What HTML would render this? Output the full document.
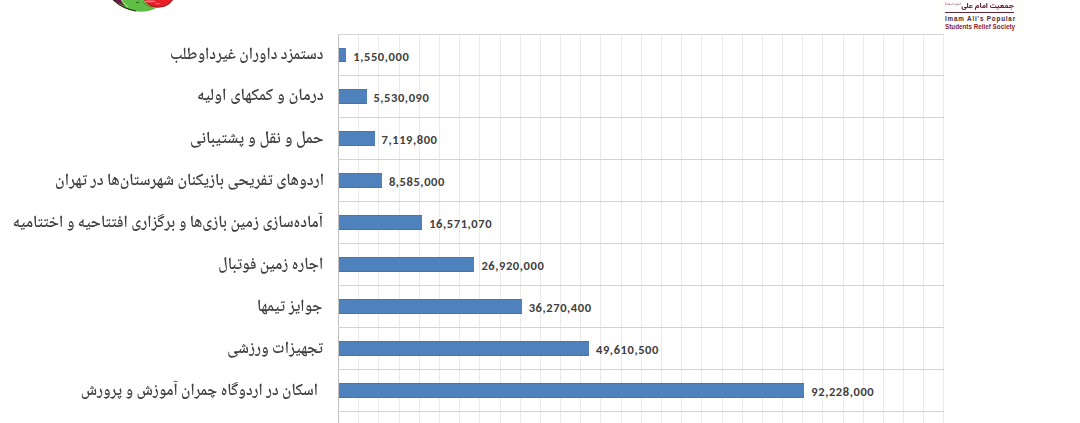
<!DOCTYPE html>
<html><head><meta charset="utf-8"><style>
html,body{margin:0;padding:0;background:#fff;width:1080px;height:423px;overflow:hidden;position:relative}
svg{position:absolute;left:0;top:0}
.v{position:absolute;font-family:Carlito,"Liberation Sans",sans-serif;font-weight:bold;font-size:12.5px;line-height:14px;color:#404040;white-space:nowrap;letter-spacing:0.58px}
.c{position:absolute;font-family:"Noto Naskh Arabic","DejaVu Sans",sans-serif;font-size:17px;font-weight:600;line-height:30px;color:#404040;direction:rtl;white-space:nowrap;transform-origin:100% 50%}
.la{font-family:"Vazirmatn","Noto Naskh Arabic","DejaVu Sans",sans-serif;font-weight:800;color:#5a1a2a;direction:rtl;white-space:nowrap}
.lsm{font-family:"Noto Naskh Arabic","DejaVu Sans",sans-serif;font-size:8px;line-height:8px;color:#6a3a44;white-space:nowrap;transform:scale(0.42);transform-origin:0 0;direction:rtl}
.le{position:absolute;left:945px;font-family:"Liberation Sans",Arial,sans-serif;font-weight:bold;font-size:6.6px;line-height:8px;white-space:nowrap}
</style></head><body>
<svg width="1080" height="423" viewBox="0 0 1080 423" shape-rendering="crispEdges">
<rect x="338" y="34" width="1" height="389" fill="#bfbfbf"/><rect x="358" y="34" width="1" height="389" fill="#eaeaea"/><rect x="378" y="34" width="1" height="389" fill="#eaeaea"/><rect x="399" y="34" width="1" height="389" fill="#eaeaea"/><rect x="419" y="34" width="1" height="389" fill="#eaeaea"/><rect x="439" y="34" width="1" height="389" fill="#eaeaea"/><rect x="459" y="34" width="1" height="389" fill="#eaeaea"/><rect x="479" y="34" width="1" height="389" fill="#eaeaea"/><rect x="500" y="34" width="1" height="389" fill="#eaeaea"/><rect x="520" y="34" width="1" height="389" fill="#eaeaea"/><rect x="540" y="34" width="1" height="389" fill="#eaeaea"/><rect x="560" y="34" width="1" height="389" fill="#eaeaea"/><rect x="580" y="34" width="1" height="389" fill="#eaeaea"/><rect x="600" y="34" width="1" height="389" fill="#eaeaea"/><rect x="621" y="34" width="1" height="389" fill="#eaeaea"/><rect x="641" y="34" width="1" height="389" fill="#eaeaea"/><rect x="661" y="34" width="1" height="389" fill="#eaeaea"/><rect x="681" y="34" width="1" height="389" fill="#eaeaea"/><rect x="701" y="34" width="1" height="389" fill="#eaeaea"/><rect x="722" y="34" width="1" height="389" fill="#eaeaea"/><rect x="742" y="34" width="1" height="389" fill="#eaeaea"/><rect x="762" y="34" width="1" height="389" fill="#eaeaea"/><rect x="782" y="34" width="1" height="389" fill="#eaeaea"/><rect x="802" y="34" width="1" height="389" fill="#eaeaea"/><rect x="822" y="34" width="1" height="389" fill="#eaeaea"/><rect x="843" y="34" width="1" height="389" fill="#eaeaea"/><rect x="863" y="34" width="1" height="389" fill="#eaeaea"/><rect x="883" y="34" width="1" height="389" fill="#eaeaea"/><rect x="903" y="34" width="1" height="389" fill="#eaeaea"/><rect x="923" y="34" width="1" height="389" fill="#eaeaea"/><rect x="943" y="34" width="1" height="389" fill="#eaeaea"/><rect x="338" y="34" width="606" height="1" fill="#d4d4d4"/><rect x="338" y="75" width="606" height="1" fill="#d4d4d4"/><rect x="338" y="117" width="606" height="1" fill="#d4d4d4"/><rect x="338" y="159" width="606" height="1" fill="#d4d4d4"/><rect x="338" y="201" width="606" height="1" fill="#d4d4d4"/><rect x="338" y="243" width="606" height="1" fill="#d4d4d4"/><rect x="338" y="285" width="606" height="1" fill="#d4d4d4"/><rect x="338" y="327" width="606" height="1" fill="#d4d4d4"/><rect x="338" y="369" width="606" height="1" fill="#d4d4d4"/><rect x="338" y="411" width="606" height="1" fill="#d4d4d4"/><rect x="339" y="48" width="7" height="14" fill="#4f81bd"/><rect x="339" y="48" width="7" height="1" fill="#4877b0"/><rect x="339" y="61" width="7" height="1" fill="#4674aa"/><rect x="339" y="89" width="28" height="15" fill="#4f81bd"/><rect x="339" y="89" width="28" height="1" fill="#4877b0"/><rect x="339" y="103" width="28" height="1" fill="#4674aa"/><rect x="339" y="131" width="36" height="15" fill="#4f81bd"/><rect x="339" y="131" width="36" height="1" fill="#4877b0"/><rect x="339" y="145" width="36" height="1" fill="#4674aa"/><rect x="339" y="173" width="43" height="15" fill="#4f81bd"/><rect x="339" y="173" width="43" height="1" fill="#4877b0"/><rect x="339" y="187" width="43" height="1" fill="#4674aa"/><rect x="339" y="215" width="83" height="15" fill="#4f81bd"/><rect x="339" y="215" width="83" height="1" fill="#4877b0"/><rect x="339" y="229" width="83" height="1" fill="#4674aa"/><rect x="339" y="257" width="135" height="15" fill="#4f81bd"/><rect x="339" y="257" width="135" height="1" fill="#4877b0"/><rect x="339" y="271" width="135" height="1" fill="#4674aa"/><rect x="339" y="299" width="183" height="15" fill="#4f81bd"/><rect x="339" y="299" width="183" height="1" fill="#4877b0"/><rect x="339" y="313" width="183" height="1" fill="#4674aa"/><rect x="339" y="341" width="250" height="15" fill="#4f81bd"/><rect x="339" y="341" width="250" height="1" fill="#4877b0"/><rect x="339" y="355" width="250" height="1" fill="#4674aa"/><rect x="339" y="383" width="465" height="15" fill="#4f81bd"/><rect x="339" y="383" width="465" height="1" fill="#4877b0"/><rect x="339" y="397" width="465" height="1" fill="#4674aa"/>
</svg>
<div class="v" style="left:353.3px;top:50.0px">1,550,000</div><div class="c" style="top:41.0px;right:756.5px;transform:scaleX(0.9213)">دستمزد داوران غیرداوطلب</div><div class="v" style="left:373.4px;top:91.0px">5,530,090</div><div class="c" style="top:82.3px;right:756.5px;transform:scaleX(0.9698)">درمان و کمکهای اولیه</div><div class="v" style="left:381.5px;top:133.0px">7,119,800</div><div class="c" style="top:125.0px;right:756.5px;transform:scaleX(0.9704)">حمل و نقل و پشتیبانی</div><div class="v" style="left:388.9px;top:175.0px">8,585,000</div><div class="c" style="top:167.3px;right:756.5px;transform:scaleX(0.9401)">اردوهای تفریحی بازیکنان شهرستان‌ها در تهران</div><div class="v" style="left:429.2px;top:217.0px">16,571,070</div><div class="c" style="top:209.0px;right:757.0px;transform:scaleX(0.9291)">آماده‌سازی زمین بازی‌ها و برگزاری افتتاحیه و اختتامیه</div><div class="v" style="left:481.4px;top:259.0px">26,920,000</div><div class="c" style="top:250.6px;right:756.5px;transform:scaleX(0.9279)">اجاره زمین فوتبال</div><div class="v" style="left:528.7px;top:301.0px">36,270,400</div><div class="c" style="top:293.0px;right:757.5px;transform:scaleX(0.9294)">جوایز تیمها</div><div class="v" style="left:596.0px;top:343.0px">49,610,500</div><div class="c" style="top:335.0px;right:756.5px;transform:scaleX(0.9307)">تجهیزات ورزشی</div><div class="v" style="left:811.3px;top:385.0px">92,228,000</div><div class="c" style="top:377.0px;right:762.5px;transform:scaleX(0.9160)">اسکان در اردوگاه چمران آموزش و پرورش</div>

<svg width="80" height="16" viewBox="105 0 80 16" style="position:absolute;left:105px;top:0;filter:blur(0.4px)">
<path d="M113.2 0 A43.8 43.8 0 0 0 140 11.8 Q150 11.8 157.5 7.6 L160 0 Z" fill="#5dbd45"/>
<path d="M113.2 0 L121.5 0 Q122.5 3 126 6.5 Q119 3.5 116 1.8 Z" fill="#6a1846"/>
<path d="M121.5 0 Q123 3.5 128 7" stroke="#a8dc8c" stroke-width="1.3" fill="none"/>
<path d="M113.4 0 A43.6 43.6 0 0 0 136 11" stroke="#2e2a22" stroke-width="1.1" fill="none"/>
<ellipse cx="137.5" cy="2.4" rx="1.2" ry="0.7" fill="#1d4a18"/>
<ellipse cx="158.5" cy="-5.5" rx="15.6" ry="12.7" fill="#e61e28" stroke="#a8141c" stroke-width="1"/>
<ellipse cx="150" cy="1.4" rx="6" ry="0.9" fill="#f4a0a0" opacity="0.8"/>
<ellipse cx="157.5" cy="3.6" rx="3" ry="0.7" fill="#f4a0a0" opacity="0.7"/>
<path d="M143 2 Q146 6 152 7" stroke="#8a3a10" stroke-width="1" fill="none" opacity="0.5"/>
</svg>
<div style="position:absolute;left:940px;top:0;width:83px;height:31px;background:#fffcfc"></div>
<div class="la" style="position:absolute;right:66px;top:2px;font-size:7px;line-height:10px;transform:scaleX(1.1);transform-origin:100% 50%">جمعیت امام علی</div>
<div class="lsm" style="position:absolute;left:945px;top:2px">(علیه السلام)</div>
<div style="position:absolute;left:945px;top:11.5px;width:69px;height:1.3px;background:#5a2a38"></div>
<div class="le" style="top:14.5px;color:#4a2a30;letter-spacing:0.82px;font-size:6.3px;">Imam Ali's Popular</div>
<div class="le" style="top:22.8px;color:#8a1e30;letter-spacing:0px;font-size:6.3px;">Students Relief Society</div>
<script>
(function(){
var tw=[153.27,126.95,133.50,268.87,310.24,104.99,65.44,95.89,237.07];
var els=document.querySelectorAll('.c');
for(var i=0;i<els.length&&i<tw.length;i++){
var e=els[i];var old=e.style.transform;e.style.transform='none';
var w=e.getBoundingClientRect().width;
if(w>0){e.style.transform='scaleX('+(tw[i]/w).toFixed(4)+')';}else{e.style.transform=old;}
}
})();
</script>
</body></html>
